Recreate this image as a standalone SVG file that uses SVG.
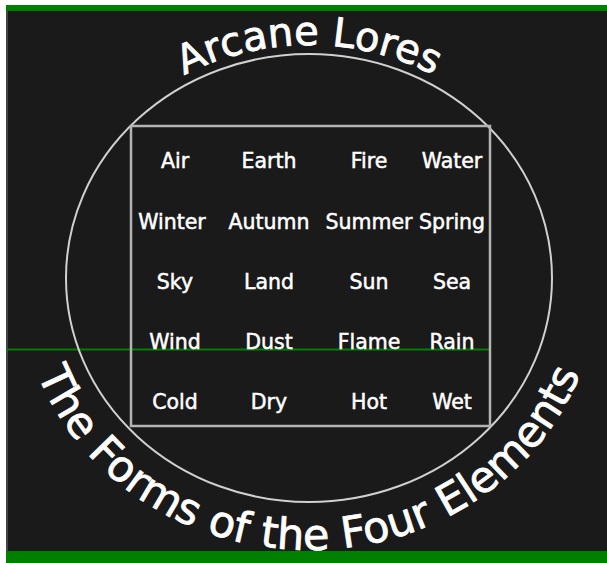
<svg xmlns="http://www.w3.org/2000/svg" width="607" height="563" viewBox="0 0 607 563">
<style>
.cell{font-family:"DejaVu Sans","Liberation Sans",sans-serif;font-size:20.5px;fill:#ffffff;stroke:#ffffff;stroke-width:0.5px;text-anchor:middle}
.arc{font-family:"DejaVu Sans","Liberation Sans",sans-serif;fill:#ffffff;stroke:#ffffff;stroke-width:0.8px;text-anchor:middle}
</style>
<defs>
<path id="topArc" d="M55,279 A254,234 0 0 1 563,279"/>
<path id="botArc" d="M19,278 A290,272 0 0 0 599,278"/>
</defs>
<rect x="0" y="0" width="607" height="563" fill="#ffffff"/>
<rect x="6" y="5" width="601" height="558" fill="#1a1a1a"/>
<rect x="6" y="5" width="2" height="558" fill="#444444"/>
<rect x="6" y="5" width="601" height="6" fill="#008000"/>
<rect x="6" y="551" width="601" height="12" fill="#008000"/>
<g id="connectors">
<line x1="6" y1="349.5" x2="489" y2="349.5" stroke="#008000" stroke-width="2"/>
</g>
<g id="circle"><ellipse cx="309" cy="278" rx="243" ry="224" fill="none" stroke="#d0d0d0" stroke-width="2"/></g>
<g id="box"><rect x="131" y="126" width="359" height="300" fill="none" stroke="#b4b4b4" stroke-width="2.5"/></g>
<g id="title-top"><text class="arc" font-size="40"><textPath href="#topArc" startOffset="50%">Arcane Lores</textPath></text></g>
<g id="title-bottom"><text class="arc" font-size="43"><textPath href="#botArc" startOffset="50%">The Forms of the Four Elements</textPath></text></g>
<g id="row1">
<text class="cell" x="175" y="168">Air</text>
<text class="cell" x="269" y="168">Earth</text>
<text class="cell" x="369" y="168">Fire</text>
<text class="cell" x="452" y="168">Water</text>
</g>
<g id="row2">
<text class="cell" x="172" y="229">Winter</text>
<text class="cell" x="269" y="229">Autumn</text>
<text class="cell" x="369" y="229">Summer</text>
<text class="cell" x="452" y="229">Spring</text>
</g>
<g id="row3">
<text class="cell" x="175" y="289">Sky</text>
<text class="cell" x="269" y="289">Land</text>
<text class="cell" x="369" y="289">Sun</text>
<text class="cell" x="452" y="289">Sea</text>
</g>
<g id="row4">
<text class="cell" x="175" y="349">Wind</text>
<text class="cell" x="269" y="349">Dust</text>
<text class="cell" x="369" y="349">Flame</text>
<text class="cell" x="452" y="349">Rain</text>
</g>
<g id="row5">
<text class="cell" x="175" y="409">Cold</text>
<text class="cell" x="269" y="409">Dry</text>
<text class="cell" x="369" y="409">Hot</text>
<text class="cell" x="452" y="409">Wet</text>
</g>
</svg>
